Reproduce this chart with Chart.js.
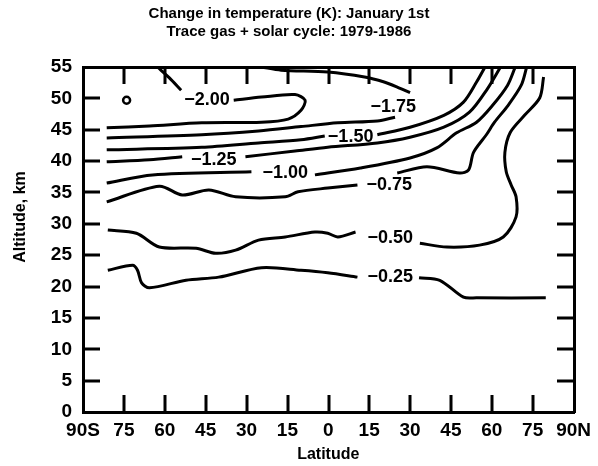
<!DOCTYPE html>
<html>
<head>
<meta charset="utf-8">
<script src="https://cdn.jsdelivr.net/npm/chart.js@4/dist/chart.umd.min.js"></script>
<style>
body { margin: 0; background: #fff; }
#wrap { width: 598px; height: 466px; }
</style>
</head>
<body>
<div id="wrap"><canvas id="graph"></canvas></div>
<script>
var ctx = document.getElementById("graph").getContext("2d")

// axes
var latTicks  = [-90, -75, -60, -45, -30, -15, 0, 15, 30, 45, 60, 75, 90];
var latLabels = ["90S", "75", "60", "45", "30", "15", "0", "15", "30", "45", "60", "75", "90N"];
var altTicks  = [0, 5, 10, 15, 20, 25, 30, 35, 40, 45, 50, 55];

// contour lines as [latitude, altitude km], each level cut in two where its label sits
var c200a = [[-62.7, 55], [-58.4, 53.3], [-54, 51.3]];
var c200b = [[-34.7, 49.7], [-24.5, 50.2], [-12.2, 50.6], [-8.5, 49.7], [-10, 48.1], [-14.7, 46.7], [-24.5, 46.2], [-46.4, 46.1], [-65.6, 45.6], [-81.3, 45.3]];
var c175a = [[-24.5, 55], [-17.3, 54.5], [-0.2, 54.2], [13.3, 53.4], [20.5, 52.6], [25.3, 51.8], [30, 50.9]];
var c175b = [[24.5, 47], [18, 46.4], [3.5, 46.1], [-10, 45.5], [-25.6, 44.8], [-46.4, 44.2], [-81.3, 43.7]];
var c150a = [[-81.3, 41.8], [-46.4, 42.2], [-25.6, 42.9], [-10, 43.4], [-1.3, 44]];
var c150b = [[18, 44.2], [30, 45.4], [42.4, 47.3], [49.6, 49.4], [54.4, 52.6], [57.5, 55]];
var c125a = [[-81.3, 39.9], [-65.6, 40.2], [-53.6, 40.7]];
var c125b = [[-30.4, 40.7], [-12.2, 41.6], [-0.2, 42.2], [18, 42.9], [30, 43.8], [42.4, 45.4], [51.8, 47.8], [58.5, 51.6], [63.2, 55]];
var c100a = [[-81.3, 36.5], [-64.5, 37.8], [-28.2, 38.3]];
var c100b = [[-4.9, 37.8], [11.8, 38.9], [30, 40.5], [39.8, 42.1], [47.1, 44.5], [54.4, 46.2], [60.3, 48.9], [65.8, 52.1], [68.6, 55]];
var c075a = [[-81.3, 33.5], [-62, 36], [-53.6, 34.6], [-43.8, 35.4], [-34, 34.3], [-15.8, 34.3], [-11.1, 35.1], [-0.2, 35.7], [10.7, 36.2]];
var c075b = [[25.3, 38.1], [36.2, 39.1], [48.2, 38.1], [51.5, 38.6], [53.3, 41.4], [58, 44.2], [61, 46.2], [66, 48.9], [70.8, 52.1], [72.8, 55]];
var c050a = [[-80.9, 29], [-70.4, 28.5], [-62, 26.3], [-48.5, 26.1], [-41.3, 25.3], [-34, 25.8], [-25.6, 27.4], [-15.8, 27.9], [-4.9, 28.7], [-0.2, 28.5], [3.5, 27.9], [10, 28.7]];
var c050b = [[33.6, 26.9], [43.5, 26.3], [55.5, 26.6], [64.2, 27.9], [68.9, 31.1], [68.9, 34.3], [67.1, 36.2], [65.3, 38.3], [64.8, 41.4], [66.8, 44.6], [72, 47.3], [77.6, 50.1], [79, 53.4]];
var c025a = [[-80.9, 22.6], [-71.8, 23.4], [-70, 22.6], [-68.5, 20.6], [-65.6, 19.8], [-52.2, 21], [-40.2, 21.5], [-24.5, 23], [-10, 22.6], [-0.2, 22.2], [10.7, 21.5]];
var c025b = [[33.3, 21.4], [40.9, 21], [49.6, 18.3], [54.4, 18.2], [79.8, 18.2]];

var segments = [c200a, c200b, c175a, c175b, c150a, c150b, c125a, c125b, c100a, c100b, c075a, c075b, c050a, c050b, c025a, c025b];

// contour labels
var labelText = ["\u22122.00", "\u22121.75", "\u22121.50", "\u22121.25", "\u22121.00", "\u22120.75", "\u22120.50", "\u22120.25"];
var labelLat  = [-44.5, 23.8, 8.2, -42, -15.8, 22.4, 22.7, 22.7];
var labelAlt  = [49.7, 48.6, 43.8, 40.2, 38.1, 36.2, 27.7, 21.5];

// local minimum marker
var minimum = [[-74, 49.7]];

var FONT = "'Liberation Sans', Arial, sans-serif";
var TICK = 17;

var frame = {
    id: "frame",
    afterDraw(chart) {
        let c = chart.ctx, a = chart.chartArea;
        let x = chart.scales.x, y = chart.scales.y;
        let L = Math.round(a.left), R = Math.round(a.right), T = Math.round(a.top), B = Math.round(a.bottom);
        c.save();
        c.fillStyle = "#000";

        // inward tick marks on all four sides, as small filled bars
        latTicks.slice(1, -1).forEach(v => {
            let px = Math.round(L + (v + 90) / 180 * (R - L));
            c.fillRect(px - 1.5, B - TICK, 3, TICK);
            c.fillRect(px - 1.5, T, 3, TICK);
        });
        altTicks.slice(1, -1).forEach(v => {
            let py = Math.round(B - v / 55 * (B - T));
            c.fillRect(L, py - 1.5, TICK, 3);
            c.fillRect(R - TICK, py - 1.5, TICK, 3);
        });

        // plot frame
        c.fillRect(L - 1, T - 1, R - L + 2, 3);
        c.fillRect(L - 1, B - 1, R - L + 2, 3);
        c.fillRect(L - 1, T - 1, 3, B - T + 2);
        c.fillRect(R - 1, T - 1, 3, B - T + 2);

        c.textAlign = "center";
        c.textBaseline = "middle";
        c.font = "bold 18px " + FONT;
        labelText.forEach((t, i) => {
            c.fillText(t, x.getPixelForValue(labelLat[i]), y.getPixelForValue(labelAlt[i]));
        });

        // y axis title sits a little above the middle in the original
        c.font = "bold 16px " + FONT;
        c.translate(21, 217);
        c.rotate(-Math.PI / 2);
        c.fillText("Altitude, km", 0, 0);
        c.restore();
    }
};

var datasets = segments.map(seg => ({
    data: seg.map(p => ({ x: p[0], y: p[1] })),
    showLine: true,
    borderColor: "#000",
    borderWidth: 3,
    pointRadius: 0,
    tension: 0.3,
    fill: false
}));

datasets.push({
    data: minimum.map(p => ({ x: p[0], y: p[1] })),
    showLine: false,
    pointRadius: 3.5,
    pointBorderWidth: 2.5,
    pointBorderColor: "#000",
    pointBackgroundColor: "#fff"
});

var chart = new Chart(ctx, {
    type: "scatter",
    data: { datasets: datasets },
    plugins: [frame],
    options: {
        responsive: true,
        maintainAspectRatio: false,
        devicePixelRatio: 1,
        animation: false,
        layout: { padding: { left: 0, right: 20, top: 0, bottom: 0 } },
        plugins: {
            legend: { display: false },
            tooltip: { enabled: false },
            title: {
                display: true,
                text: ["Change in temperature (K): January 1st", "Trace gas + solar cycle: 1979-1986"],
                color: "#000",
                font: { family: FONT, size: 15, weight: "bold", lineHeight: 1.25 },
                padding: { top: 4, bottom: 25.5 }
            }
        },
        scales: {
            x: {
                type: "linear",
                min: -90,
                max: 90,
                afterFit: s => { s.height = 54; },
                afterBuildTicks: s => { s.ticks = latTicks.map(v => ({ value: v })); },
                grid: { display: false, drawTicks: false },
                border: { display: false },
                ticks: {
                    autoSkip: false,
                    maxRotation: 0,
                    padding: 7,
                    color: "#000",
                    font: { family: FONT, size: 19, weight: "bold" },
                    callback: v => latLabels[latTicks.indexOf(v)]
                },
                title: {
                    display: true,
                    text: "Latitude",
                    color: "#000",
                    font: { family: FONT, size: 16, weight: "bold" },
                    padding: { top: 0, bottom: 2 }
                }
            },
            y: {
                type: "linear",
                min: 0,
                max: 55,
                afterFit: s => { s.width = 83; },
                afterBuildTicks: s => { s.ticks = altTicks.map(v => ({ value: v })); },
                grid: { display: false, drawTicks: false },
                border: { display: false },
                ticks: {
                    autoSkip: false,
                    padding: 11,
                    color: "#000",
                    font: { family: FONT, size: 19, weight: "bold" }
                }
            }
        }
    }
});
</script>
</body>
</html>
